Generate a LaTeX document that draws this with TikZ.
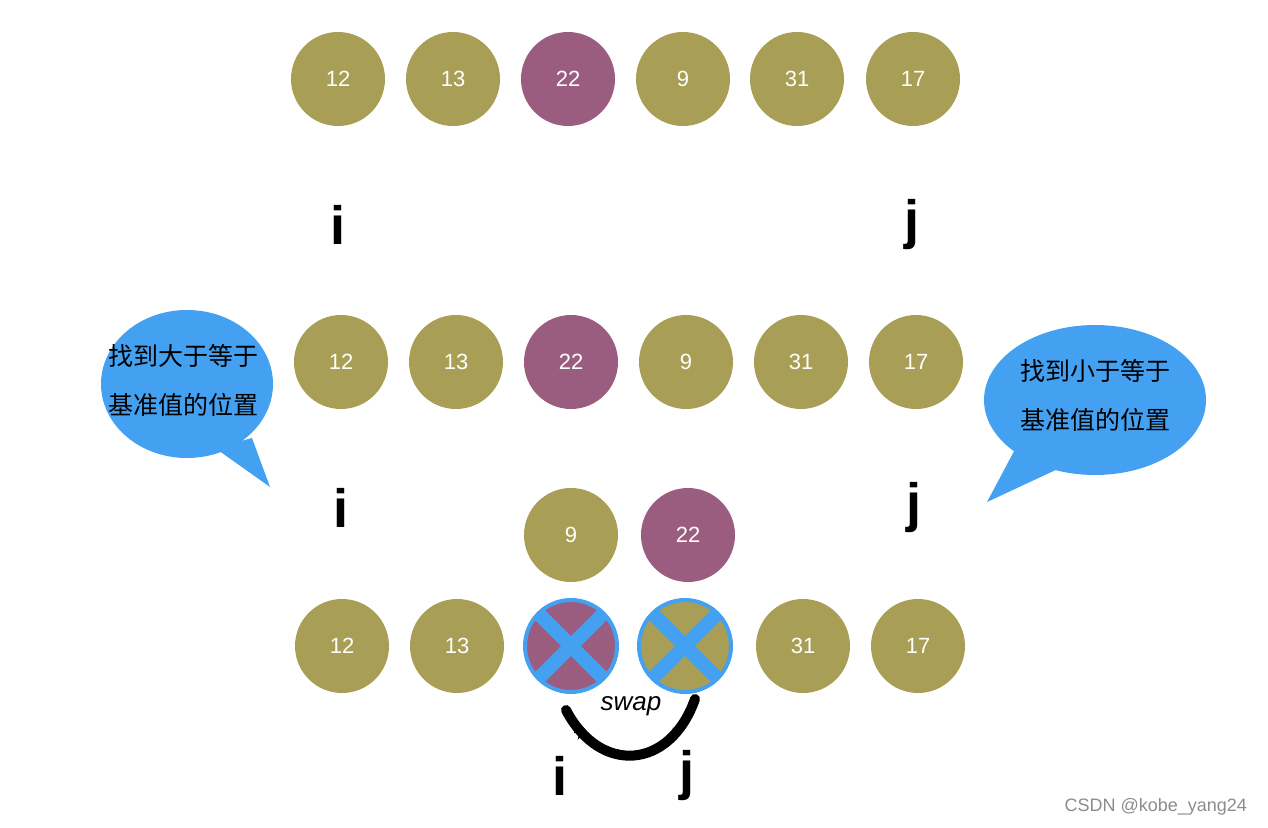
\documentclass[tikz,border=0pt]{standalone}
\usepackage{fontspec}
\setmainfont{Liberation Sans}
\newfontfamily\cjk{Noto Sans CJK SC}
\usetikzlibrary{decorations.pathmorphing}
\definecolor{olive}{HTML}{A89E56}
\definecolor{plum}{HTML}{9B5D7F}
\definecolor{bubble}{HTML}{44A1F2}
\tikzset{
  ball/.style={circle,minimum size=47pt,inner sep=0pt,text=white,font=\fontsize{11}{13}\selectfont},
  ob/.style={ball,fill=olive},
  pb/.style={ball,fill=plum},
  idx/.style={font=\bfseries\fontsize{27}{30}\selectfont,text=black},
  btext/.style={font=\cjk\fontsize{12.5}{14}\selectfont,text=black,align=center},
  xmark/.style={bubble,line width=7pt},
}
\begin{document}
\begin{tikzpicture}[x=0.5pt,y=-0.5pt]
\useasboundingbox (0,0) rectangle (1268,828);
% row 1
\node[ob] (a1) at (338,79) {12};
\node[ob] (a2) at (453,79) {13};
\node[pb] (a3) at (568,79) {22};
\node[ob] (a4) at (683,79) {9};
\node[ob] (a5) at (797,79) {31};
\node[ob] (a6) at (913,79) {17};
\node[idx] (i1) at (338,225) {i};
\node[idx] (j1) at (912,225) {j};
% row 2
\node[ob] (b1) at (341,362) {12};
\node[ob] (b2) at (456,362) {13};
\node[pb] (b3) at (571,362) {22};
\node[ob] (b4) at (686,362) {9};
\node[ob] (b5) at (801,362) {31};
\node[ob] (b6) at (916,362) {17};
\node[idx] (i2) at (341,508) {i};
\node[idx] (j2) at (914,508) {j};
% bubbles
\fill[bubble] (187,384) ellipse [x radius=86, y radius=74];
\fill[bubble] (215,448) -- (270,487) -- (252,438) -- cycle;
\node[btext] (lt1) at (183,356) {找到大于等于};
\node[btext] (lt2) at (183,405) {基准值的位置};
\fill[bubble] (1095,400) ellipse [x radius=111, y radius=75];
\fill[bubble] (1020,440) -- (987,502) -- (1060,468) -- cycle;
\node[btext] (rt1) at (1095,371) {找到小于等于};
\node[btext] (rt2) at (1095,420) {基准值的位置};
% row 3
\node[ob] (c1) at (571,535) {9};
\node[pb] (c2) at (688,535) {22};
% row 4
\node[ob] (d1) at (342,646) {12};
\node[ob] (d2) at (457,646) {13};
\node[pb] (d3) at (571,646) {};
\node[ob] (d4) at (685,646) {};
\node[ob] (d5) at (803,646) {31};
\node[ob] (d6) at (918,646) {17};
\foreach \n in {d3,d4}{
  \draw[bubble,line width=2pt] (\n) circle[radius=46];
  \draw[xmark] (\n.north west) -- (\n.south east);
  \draw[xmark] (\n.north east) -- (\n.south west);
}
% swap curve
\coordinate (s1) at (566,710);
\coordinate (s2) at (695,699);
\draw[line width=5pt,line cap=round] (s1) .. controls (600,775) and (670,770) .. (s2);
\draw[line width=1.5pt,decorate,decoration={random steps,segment length=1.5pt,amplitude=1.5pt}] (s1) .. controls (600,775) and (670,770) .. (s2);
\node[font=\itshape\fontsize{13}{15}\selectfont] (sw) at (631,706) {swap};
\node[idx] (i3) at (560,776) {i};
\node[idx] (j3) at (687,776) {j};
\node[font=\fontsize{9}{11}\selectfont,text=black!45,anchor=east] (wm) at (1254,807) {CSDN @kobe\_yang24};
\end{tikzpicture}
\end{document}
